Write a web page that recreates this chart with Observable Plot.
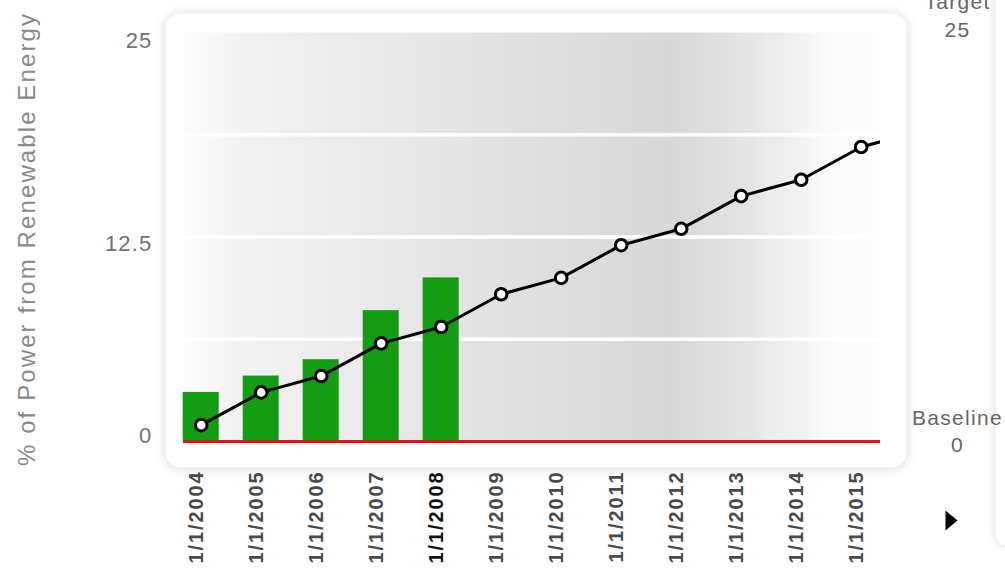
<!DOCTYPE html>
<html>
<head>
<meta charset="utf-8">
<script src="https://cdn.jsdelivr.net/npm/d3@7"></script>
<script src="https://cdn.jsdelivr.net/npm/@observablehq/plot@0.6"></script>
<style>
  html, body { margin: 0; padding: 0; background: #ffffff; }
  #chart svg { display: block; font-family: "Liberation Sans", Arial, sans-serif; }
  rect[aria-label="panel"], g[aria-label="panel"] > rect { filter: drop-shadow(0px 1px 6px rgba(0,0,0,0.16)); }
  rect[aria-label="sidepanel"], g[aria-label="sidepanel"] > rect { filter: drop-shadow(0px 0px 5px rgba(0,0,0,0.14)); }
</style>
</head>
<body>
<div id="chart"></div>
<script>
// ---- data ----
const years = [2004, 2005, 2006, 2007, 2008, 2009, 2010, 2011, 2012, 2013, 2014, 2015];
const xLabels = ["1/1/2004", "1/1/2005", "1/1/2006", "1/1/2007", "1/1/2008", "1/1/2009",
                 "1/1/2010", "1/1/2011", "1/1/2012", "1/1/2013", "1/1/2014", "1/1/2015"];
const barYears = [2004, 2005, 2006, 2007, 2008];
const barValues = [3, 4, 5, 8, 10];
const lineYears = [2004, 2005, 2006, 2007, 2008, 2009, 2010, 2011, 2012, 2013, 2014, 2015, 2016];
const lineValues = [1, 3, 4, 6, 7, 9, 10, 12, 13, 15, 16, 18, 19];
const yTicks = [0, 12.5, 25];
const gridValues = [6.25, 12.5, 18.75];
const targetValue = 25;
const baselineValue = 0;
const currentYear = 2008;

const bars = barYears.map((year, i) => ({year, value: barValues[i]}));
const line = lineYears.map((year, i) => ({year, value: lineValues[i]}));
const labels = years.map((year, i) => ({year, label: xLabels[i]}));

const font = "Liberation Sans, Arial, sans-serif";
const yNudge = [-6, 7, 8];

const arrowSymbol = {
  draw(context) {
    context.moveTo(-6, -10);
    context.lineTo(6, 0);
    context.lineTo(-6, 10);
    context.closePath();
  }
};

const svg = Plot.plot({
  width: 1005,
  height: 573,
  marginLeft: 183,
  marginRight: 125,
  marginTop: 32,
  marginBottom: 132,
  style: {background: "#ffffff", overflow: "visible"},
  x: {type: "linear", domain: [2003.705, 2015.322], axis: null},
  y: {domain: [0, 25], axis: null},
  marks: [
    Plot.frame({ariaLabel: "sidepanel", fill: "#ffffff", stroke: "none", rx: 12,
      insetLeft: 812, insetRight: -140, insetTop: -60, insetBottom: -104}),
    Plot.frame({ariaLabel: "panel", fill: "#ffffff", stroke: "none", rx: 15,
      insetLeft: -18, insetRight: -26, insetTop: -19, insetBottom: -26}),
    Plot.frame({fill: "url(#bggrad)", stroke: "none"}),
    Plot.ruleY(gridValues, {stroke: "#ffffff", strokeWidth: 3.5}),
    Plot.rectY(bars, {
      x1: d => d.year - 0.5, x2: d => d.year + 0.5, y1: 0, y2: "value",
      insetLeft: 12, insetRight: 12, fill: "#149c14"
    }),
    Plot.ruleY([baselineValue], {stroke: "#e3140f", strokeWidth: 3}),
    Plot.line(line, {x: "year", y: "value", stroke: "#000000", strokeWidth: 3, clip: true}),
    Plot.dot(line, {x: "year", y: "value", r: 5.8, fill: "#ffffff", stroke: "#000000", strokeWidth: 3, clip: true}),
    // x labels
    Plot.text(labels, {
      x: "year", frameAnchor: "bottom", text: "label", rotate: -90, textAnchor: "end",
      dx: 2, dy: 29, fontSize: 20, fontWeight: "bold", fontFamily: font,
      fill: d => d.year === currentYear ? "#111111" : "#4a4a4a"
    }),
    // y tick labels
    ...yTicks.map((t, i) => Plot.text([t], {
      y: d => d, text: d => String(d), frameAnchor: "left", textAnchor: "end",
      dx: -31, dy: yNudge[i], fontSize: 22, fontFamily: font, fill: "#727272"
    })),
    // y title
    Plot.text([12.5], {
      y: d => d, text: () => "% of Power from Renewable Energy", frameAnchor: "left",
      rotate: -90, textAnchor: "middle", dx: -156, dy: 2, fontSize: 24, fontFamily: font, fill: "#8a8a8a"
    }),
    // target / baseline annotations
    Plot.text([targetValue], {
      y: d => d, text: d => `Target\n${d}`, frameAnchor: "right", textAnchor: "middle",
      dx: 77, dy: -18, lineHeight: 1.33, fontSize: 21, fontFamily: font, fill: "#666666"
    }),
    Plot.text([baselineValue], {
      y: d => d, text: d => `Baseline\n${d}`, frameAnchor: "right", textAnchor: "middle",
      dx: 77, dy: -12, lineHeight: 1.3, fontSize: 21, fontFamily: font, fill: "#666666"
    }),
    Plot.dot([baselineValue], {
      y: d => d, frameAnchor: "right", dx: 71, dy: 79, symbol: arrowSymbol,
      fill: "#000000", stroke: "none"
    })
  ]
});

d3.select(svg).insert("defs", ":first-child").html(`
  <linearGradient id="bggrad" x1="0" y1="0" x2="1" y2="0">
    <stop offset="0" stop-color="#fcfcfc"/>
    <stop offset="0.08" stop-color="#f2f2f2"/>
    <stop offset="0.40" stop-color="#e3e3e3"/>
    <stop offset="0.70" stop-color="#d7d7d7"/>
    <stop offset="0.81" stop-color="#e4e4e4"/>
    <stop offset="0.89" stop-color="#f3f3f3"/>
    <stop offset="0.93" stop-color="#fbfbfb"/>
    <stop offset="1" stop-color="#fdfdfd"/>
  </linearGradient>`);

// letter spacing per text style (the reference lettering is wider than Arial)
const spacing = {"20": "1.9px", "22": "1.2px", "24": "2.1px", "21": "1.3px"};
d3.select(svg).selectAll("g[font-size]").each(function() {
  const fs = String(parseFloat(this.getAttribute("font-size")));
  if (spacing[fs]) d3.select(this).style("letter-spacing", spacing[fs]);
});

document.getElementById("chart").appendChild(svg);
</script>
</body>
</html>
